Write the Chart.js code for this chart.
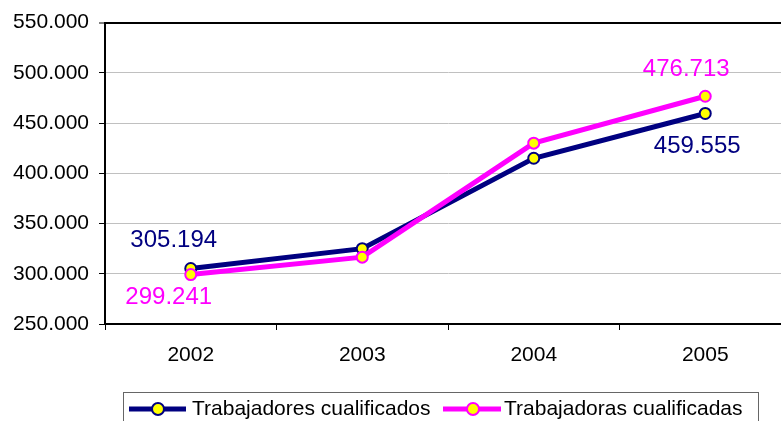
<!DOCTYPE html>
<html><head><meta charset="utf-8">
<script src="https://cdn.jsdelivr.net/npm/chart.js@4/dist/chart.umd.min.js"></script>
<style>
html,body{margin:0;padding:0;overflow:hidden;background:#fff;width:781px;height:421px}
canvas{display:block}
</style></head>
<body>
<canvas id="c" width="800" height="421"></canvas>
<script>
const categories = ['2002', '2003', '2004', '2005'];
const seriesNames = ['Trabajadores cualificados', 'Trabajadoras cualificadas'];
const trabajadores = [305194, 325000, 415000, 459555];
const trabajadoras = [299241, 316500, 430000, 476713];
const yMin = 250000, yMax = 550000, yStep = 50000;

const NAVY = '#000080', MAGENTA = '#FF00FF', YELLOW = '#FFFF00';
const FONT = '"Liberation Sans", Arial, sans-serif';

function fmt(v) {
  return String(Math.round(v)).replace(/\B(?=(\d{3})+(?!\d))/g, '.');
}

const labelPlugin = {
  id: 'endLabels',
  afterDatasetsDraw(chart, args, opts) {
    const ctx = chart.ctx;
    ctx.save();
    ctx.font = '24px ' + FONT;
    ctx.textAlign = 'center';
    ctx.textBaseline = 'middle';
    opts.spots.forEach(s => {
      const meta = chart.getDatasetMeta(s.ds);
      const pt = meta.data[s.i];
      const val = chart.data.datasets[s.ds].data[s.i];
      ctx.fillStyle = chart.data.datasets[s.ds].borderColor;
      ctx.fillText(fmt(val), pt.x + s.dx, pt.y + s.dy);
    });
    ctx.restore();
  }
};

const legendPlugin = {
  id: 'boxLegend',
  afterDraw(chart, args, opts) {
    const ctx = chart.ctx;
    ctx.save();
    ctx.strokeStyle = '#666';
    ctx.lineWidth = 1;
    ctx.strokeRect(opts.box.x + 0.5, opts.box.y + 0.5, opts.box.w, opts.box.h);
    ctx.font = '21px ' + FONT;
    ctx.textBaseline = 'middle';
    ctx.textAlign = 'left';
    opts.items.forEach((it, k) => {
      const ds = chart.data.datasets[k];
      ctx.strokeStyle = ds.borderColor;
      ctx.lineWidth = 5;
      ctx.beginPath();
      ctx.moveTo(it.x1, opts.y);
      ctx.lineTo(it.x2, opts.y);
      ctx.stroke();
      ctx.beginPath();
      ctx.arc(it.mx, opts.y, 6, 0, Math.PI * 2);
      ctx.fillStyle = YELLOW;
      ctx.fill();
      ctx.lineWidth = 2;
      ctx.stroke();
      ctx.fillStyle = '#000';
      ctx.fillText(ds.label, it.tx, opts.y);
    });
    ctx.restore();
  }
};

new Chart(document.getElementById('c'), {
  type: 'line',
  data: {
    labels: categories,
    datasets: [
      {
        label: seriesNames[0],
        data: trabajadores,
        borderColor: NAVY,
        backgroundColor: YELLOW,
        borderWidth: 5,
        pointRadius: 5.5,
        pointBorderWidth: 2,
        pointBackgroundColor: YELLOW,
        pointBorderColor: NAVY,
        tension: 0,
        order: 1
      },
      {
        label: seriesNames[1],
        data: trabajadoras,
        borderColor: MAGENTA,
        backgroundColor: YELLOW,
        borderWidth: 5,
        pointRadius: 5.5,
        pointBorderWidth: 2,
        pointBackgroundColor: YELLOW,
        pointBorderColor: MAGENTA,
        tension: 0,
        order: 0
      }
    ]
  },
  options: {
    responsive: false,
    animation: false,
    devicePixelRatio: 1,
    layout: { padding: { left: 0, top: 21, right: 9, bottom: 0 } },
    plugins: {
      legend: { display: false },
      tooltip: { enabled: false },
      endLabels: {
        spots: [
          { ds: 0, i: 0, dx: -17, dy: -28 },
          { ds: 1, i: 0, dx: -22, dy: 23 },
          { ds: 1, i: 3, dx: -19, dy: -27 },
          { ds: 0, i: 3, dx: -8, dy: 33 }
        ]
      },
      boxLegend: {
        box: { x: 123, y: 392, w: 635, h: 40 },
        y: 409,
        items: [
          { x1: 129, x2: 186, mx: 158, tx: 192 },
          { x1: 443, x2: 501, mx: 473, tx: 504 }
        ]
      }
    },
    scales: {
      x: {
        offset: true,
        grid: {
          offset: true,
          drawOnChartArea: false,
          tickLength: 6,
          tickColor: '#000',
          tickWidth: 1
        },
        border: { color: '#000', width: 2 },
        ticks: {
          color: '#000',
          padding: 13,
          font: { family: FONT, size: 21 }
        },
        afterFit(scale) { scale.height = 97; }
      },
      y: {
        min: yMin,
        max: yMax,
        grid: {
          color: ctx => (ctx.tick && ctx.tick.value === yMax) ? '#000' : '#c0c0c0',
          lineWidth: ctx => (ctx.tick && ctx.tick.value === yMax) ? 2 : 1,
          tickLength: 6,
          tickColor: '#000',
          tickWidth: 1
        },
        border: { color: '#000', width: 2 },
        ticks: {
          stepSize: yStep,
          color: '#000',
          padding: 10,
          font: { family: FONT, size: 21 },
          callback: v => fmt(v)
        },
        afterFit(scale) { scale.width = 105; }
      }
    }
  },
  plugins: [labelPlugin, legendPlugin]
});
</script>
</body></html>
